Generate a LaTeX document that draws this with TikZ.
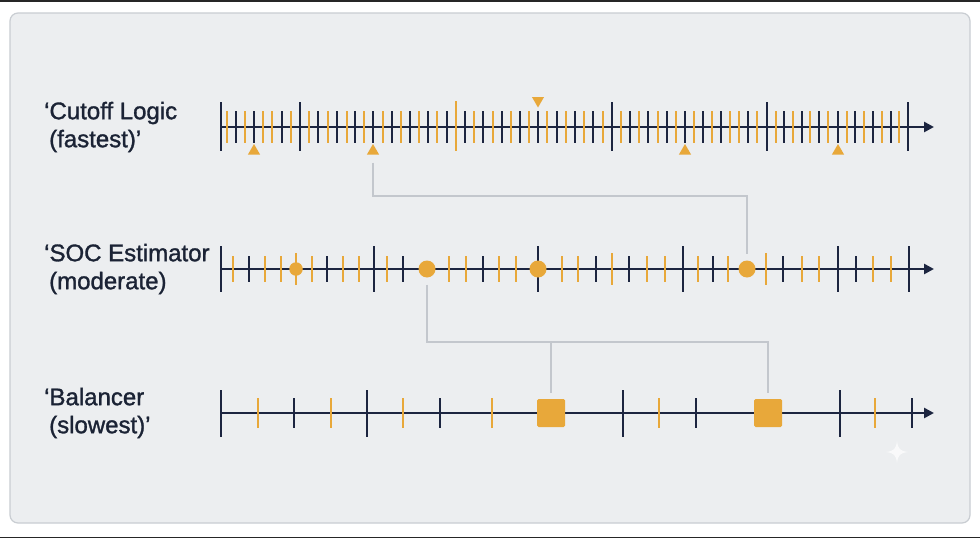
\documentclass[tikz,border=0pt]{standalone}
\usepackage{fontspec}
\setmainfont{Liberation Sans}
\newfontfamily\labfont{Liberation Sans}[FakeBold=1.3]
\usetikzlibrary{arrows.meta,shapes.geometric,calc}
\definecolor{navy}{HTML}{1C2540}
\definecolor{amber}{HTML}{E8A83A}
\definecolor{panelfill}{HTML}{ECEEF0}
\definecolor{panelline}{HTML}{C9CDD2}
\definecolor{connline}{HTML}{C3C7CD}
\definecolor{labtext}{HTML}{1B2335}
\tikzset{
  axisline/.style={navy, line width=2.7, -{Triangle[length=10pt,width=10pt]}},
  tickD/.style={navy, line width=2.6},
  tickO/.style={amber, line width=2.8},
  lab/.style={anchor=west, align=left, inner sep=0pt, text=labtext,
    font=\labfont\fontsize{24}{28}\selectfont},
  tri/.style={regular polygon, regular polygon sides=3, minimum size=14pt,
    inner sep=0pt, fill=amber, draw=none},
  invtri/.style={tri, shape border rotate=180},
  dotm/.style={circle, fill=amber, inner sep=0pt, minimum size=#1},
  sqm/.style={rectangle, rounded corners=1.5pt, fill=amber, inner sep=0pt, minimum size=28pt},
  connector/.style={connline, line width=1.2},
}
\begin{document}
\begin{tikzpicture}[x=1pt,y=-1pt]
\useasboundingbox (0,0) rectangle (980,538);
\fill[white] (0,0) rectangle (980,538);
\fill[black!85] (0,0) rectangle (980,1.5);
\fill[black!85] (0,536.5) rectangle (980,538);
\draw[panelline, fill=panelfill, line width=1.2, rounded corners=8] (10,13) rectangle (970,523);

% labels
\node[lab] (lab1) at (44,127) {‘Cutoff Logic\\\hspace*{5pt}(fastest)’};
\node[lab] (lab2) at (44,269) {‘SOC Estimator\\\hspace*{5pt}(moderate)};
\node[lab] (lab3) at (44,413) {‘Balancer\\\hspace*{5pt}(slowest)’};

% ---------- row 1 ----------
\draw[axisline] (221,127) -- (934,127);
\foreach \x in {236,254,282,318,337,355,373,392,410,428,447,465,483,502,520,538,557,575,593,630,648,667,685,703,721,748,784,802,819,838,855,873,891}
  \draw[tickD] (\x,111) -- (\x,143);
\foreach \x in {227,245,263,272,291,309,328,347,364,383,401,419,437,474,493,511,529,547,566,584,603,621,639,658,676,694,712,730,739,757,776,793,810,828,847,864,882,899}
  \draw[tickO] (\x,111) -- (\x,143);
\foreach \x in {221,300,612,767,908}
  \draw[tickD] (\x,102) -- (\x,151);
\draw[tickO] (456,101) -- (456,151);
\node[tri] (t1) at (254,151) {};
\node[tri] (t2) at (373,151) {};
\node[tri] (t3) at (685,151) {};
\node[tri] (t4) at (838,151) {};
\node[invtri] (t5) at (538,100.5) {};

% ---------- row 2 ----------
\draw[axisline] (221,269) -- (934,269);
\foreach \x in {249,327,403,483,596,629,713,783,856}
  \draw[tickD] (\x,256) -- (\x,282);
\foreach \x in {233,265,281,312,343,359,387,449,466,499,516,562,578,647,665,698,728,802,819,873,891}
  \draw[tickO] (\x,256) -- (\x,282);
\foreach \x in {296,612,766}
  \draw[tickO] (\x,253) -- (\x,285);
\foreach \x in {221,374,538,683,838,909}
  \draw[tickD] (\x,246) -- (\x,292);
\node[dotm=13.5pt] (c1) at (296,269) {};
\node[dotm=17pt] (c2) at (427,269) {};
\node[dotm=17pt] (c3) at (538,269) {};
\node[dotm=17pt] (c4) at (747,269) {};

% ---------- row 3 ----------
\draw[axisline] (221,413) -- (934,413);
\foreach \x in {294,440,696,912}
  \draw[tickD] (\x,398) -- (\x,428);
\foreach \x in {258,331,403,492,659,875}
  \draw[tickO] (\x,398) -- (\x,428);
\foreach \x in {221,367,623,840}
  \draw[tickD] (\x,390) -- (\x,437);
\node[sqm] (s1) at (551,413) {};
\node[sqm] (s2) at (768,413) {};

% ---------- connectors ----------
\coordinate (k1) at (560,196);
\coordinate (k2) at (600,342);
\draw[connector, shorten <=8pt, shorten >=6pt] (t2.south) |- (k1) -| (c4.north);
\draw[connector, shorten <=7pt, shorten >=6pt] (c2.south) |- (k2) -| (s2.north);
\draw[connector, shorten >=6pt] (s1.north |- k2) -- (s1.north);

% faint sparkle mark
\fill[white, opacity=0.7] (897,441) .. controls (898,449) and (900,451) .. (908,452)
  .. controls (900,453) and (898,455) .. (897,463)
  .. controls (896,455) and (894,453) .. (886,452)
  .. controls (894,451) and (896,449) .. (897,441) -- cycle;
\end{tikzpicture}
\end{document}
